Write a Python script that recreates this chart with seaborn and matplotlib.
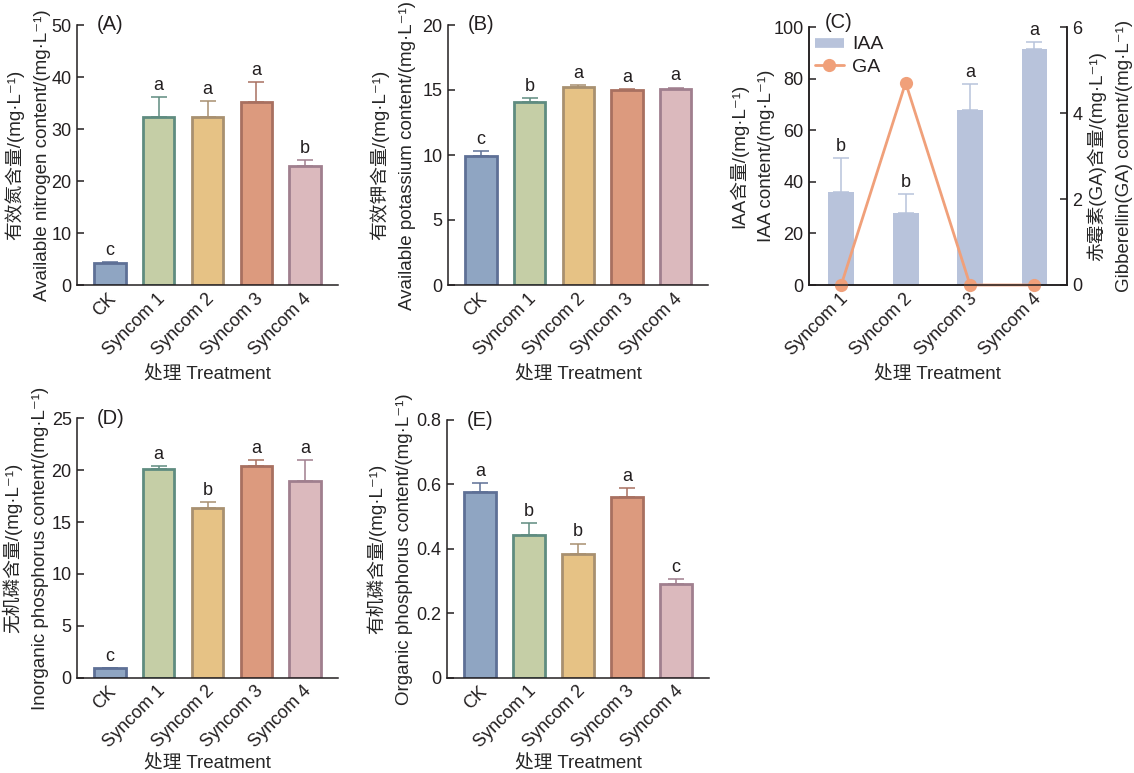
import matplotlib
matplotlib.use("Agg")
import matplotlib.pyplot as plt
import seaborn as sns
import numpy as np
import pandas as pd
from matplotlib.lines import Line2D
from matplotlib.transforms import ScaledTranslation

sns.set_theme(style="ticks")
plt.rcParams['font.family'] = ['Liberation Sans', 'Noto Sans CJK SC', 'DejaVu Sans']
plt.rcParams['axes.linewidth'] = 1.1
plt.rcParams['axes.edgecolor'] = '#231f20'
plt.rcParams['xtick.color'] = '#231f20'
plt.rcParams['ytick.color'] = '#231f20'
plt.rcParams['text.color'] = '#231f20'

# ---- data ----
groups = ["CK", "Syncom 1", "Syncom 2", "Syncom 3", "Syncom 4"]
syncoms = ["Syncom 1", "Syncom 2", "Syncom 3", "Syncom 4"]

n_mean = [4.2, 32.4, 32.4, 35.1, 22.9]
n_err = [0.25, 3.8, 2.9, 3.9, 1.1]
n_sig = ["c", "a", "a", "a", "b"]

k_mean = [9.92, 14.1, 15.25, 14.97, 15.08]
k_err = [0.38, 0.26, 0.13, 0.08, 0.10]
k_sig = ["c", "b", "a", "a", "a"]

iaa_mean = [36.0, 28.1, 68.0, 91.5]
iaa_err = [13.4, 7.1, 10.0, 2.9]
iaa_sig = ["b", "b", "a", "a"]
ga_mean = [0.0, 4.71, 0.0, 0.0]

ip_mean = [0.9, 20.1, 16.4, 20.4, 19.0]
ip_err = [0.05, 0.3, 0.55, 0.55, 1.95]
ip_sig = ["c", "a", "b", "a", "a"]

op_mean = [0.575, 0.443, 0.384, 0.561, 0.292]
op_err = [0.029, 0.038, 0.032, 0.028, 0.014]
op_sig = ["a", "b", "b", "a", "c"]

fills = ["#8fa5c2", "#c5cea6", "#e6c285", "#dc9a7e", "#dbb9bd"]
edges = ["#5e7096", "#5f8c80", "#a89070", "#a87060", "#a07f8e"]
iaa_color = "#b8c3db"
ga_color = "#f0a07a"

FS = 13
LFS = 13.5
LSP = 1.75
W, H = 1134, 773
fig = plt.figure(figsize=(W / 100, H / 100), dpi=100)


def px_axes(left, top, right, bottom):
    return fig.add_axes([left / W, 1 - bottom / H, (right - left) / W, (bottom - top) / H])


def ylab(cn, en):
    return cn + "/(mg·L⁻¹)\n" + en + "/(mg·L⁻¹)"


def set_ylab(ax, text, xpos):
    ax.set_ylabel(text, fontsize=LFS, linespacing=LSP)
    ax.yaxis.label.set_verticalalignment("center")
    ax.yaxis.set_label_coords(xpos, 0.5)


def style_ticks(ax):
    ax.tick_params(axis="y", labelsize=FS, direction="in", length=5, width=1.1, pad=4)
    ax.tick_params(axis="x", labelsize=FS, length=0, pad=8)


def set_xlabels(ax, labels, lpad=5):
    ax.set_xticks(range(len(labels)))
    ax.set_xticklabels(labels, rotation=45, ha="right", va="center",
                       rotation_mode="anchor")
    off = ScaledTranslation(4 / 100, 0, fig.dpi_scale_trans)
    for lbl in ax.get_xticklabels():
        lbl.set_transform(lbl.get_transform() + off)
    ax.set_xlabel("处理 Treatment", fontsize=LFS, labelpad=lpad)


def bar_panel(ax, means, errs, sigs, ymax, yticks, cn, en, letter, sig_off, lx, lpad=5):
    df = pd.DataFrame({"g": groups, "v": means})
    sns.barplot(data=df, x="g", y="v", hue="g", palette=fills, legend=False,
                width=0.64, ax=ax, errorbar=None, linewidth=2.0, saturation=1)
    for p, ec in zip(ax.patches, edges):
        p.set_edgecolor(ec)
    for i, (m, e, s) in enumerate(zip(means, errs, sigs)):
        ax.errorbar([i], [m], yerr=[[0], [e]], fmt="none", ecolor=edges[i],
                    elinewidth=1.1, capsize=5.5, capthick=1.1, zorder=1)
        ax.text(i, m + e + sig_off, s, ha="center", va="bottom", fontsize=FS)
    ax.set_xlim(-0.67, 4.67)
    ax.set_ylim(0, ymax)
    ax.set_yticks(yticks)
    ax.set_yticklabels([f"{t:g}" for t in yticks])
    sns.despine(ax=ax)
    style_ticks(ax)
    set_xlabels(ax, groups, lpad)
    set_ylab(ax, ylab(cn, en), lx)
    ax.text(0.075, 1.0, letter, transform=ax.transAxes, ha="left", va="center",
            fontsize=FS + 1.5)


axA = px_axes(77.3, 25, 337.7, 285)
bar_panel(axA, n_mean, n_err, n_sig, 50, [0, 10, 20, 30, 40, 50],
          "有效氮含量", "Available nitrogen content", "(A)", 0.6, -0.191)

axB = px_axes(448.3, 25, 708.3, 285)
bar_panel(axB, k_mean, k_err, k_sig, 20, [0, 5, 10, 15, 20],
          "有效钾含量", "Available potassium content", "(B)", 0.25, -0.214)

axD = px_axes(77.3, 418.3, 337.7, 677.7)
bar_panel(axD, ip_mean, ip_err, ip_sig, 25, [0, 5, 10, 15, 20, 25],
          "无机磷含量", "Inorganic phosphorus content", "(D)", 0.3, -0.197, lpad=2.5)

axE = px_axes(447.3, 420, 709, 677.7)
bar_panel(axE, op_mean, op_err, op_sig, 0.8, [0, 0.2, 0.4, 0.6, 0.8],
          "有机磷含量", "Organic phosphorus content", "(E)", 0.01, -0.22, lpad=2.5)

# ---- panel C ----
axC = px_axes(809, 27.3, 1066.7, 285)
dfc = pd.DataFrame({"g": syncoms, "v": iaa_mean})
sns.barplot(data=dfc, x="g", y="v", color=iaa_color, width=0.4, ax=axC,
            errorbar=None, saturation=1, linewidth=0)
for i, (m, e, s) in enumerate(zip(iaa_mean, iaa_err, iaa_sig)):
    axC.errorbar([i], [m], yerr=[[0], [e]], fmt="none", ecolor=iaa_color,
                 elinewidth=1.1, capsize=5.5, capthick=1.1, zorder=1)
    axC.text(i, m + e + 1.2, s, ha="center", va="bottom", fontsize=FS)
axC.set_xlim(-0.5, 3.5)
axC.set_ylim(0, 100)
axC.set_yticks([0, 20, 40, 60, 80, 100])
style_ticks(axC)
set_xlabels(axC, syncoms)
set_ylab(axC, ylab("IAA含量", "IAA content"), -0.222)
axC.spines["top"].set_visible(False)

axC2 = axC.twinx()
sns.lineplot(x=list(range(4)), y=ga_mean, ax=axC2, color=ga_color, linewidth=2,
             marker="o", markersize=9.5, markeredgewidth=0, clip_on=False)
axC2.set_ylim(0, 6)
axC2.set_yticks([0, 2, 4, 6])
axC2.tick_params(axis="y", labelsize=FS, direction="in", length=5, width=1.1, pad=4)
axC2.spines["top"].set_visible(False)
set_ylab(axC2, ylab("赤霉素(GA)含量", "Gibberellin(GA) content"), 1.168)
axC2.text(0.062, 1.02, "(C)", transform=axC.transAxes, ha="left", va="center",
          fontsize=FS + 1.5)

handles = [Line2D([0], [0], color=iaa_color, lw=7, solid_capstyle="butt"),
           Line2D([0], [0], color=ga_color, lw=2, marker="o", markersize=9.5,
                  markeredgewidth=0)]
axC2.legend(handles, ["IAA", "GA"], loc="upper left", bbox_to_anchor=(0.0, 0.99),
            frameon=False, fontsize=FS + 1, handlelength=1.5, handletextpad=0.4,
            labelspacing=0.25, borderaxespad=0.1, borderpad=0.2)

fig.savefig("out.png", dpi=100)
